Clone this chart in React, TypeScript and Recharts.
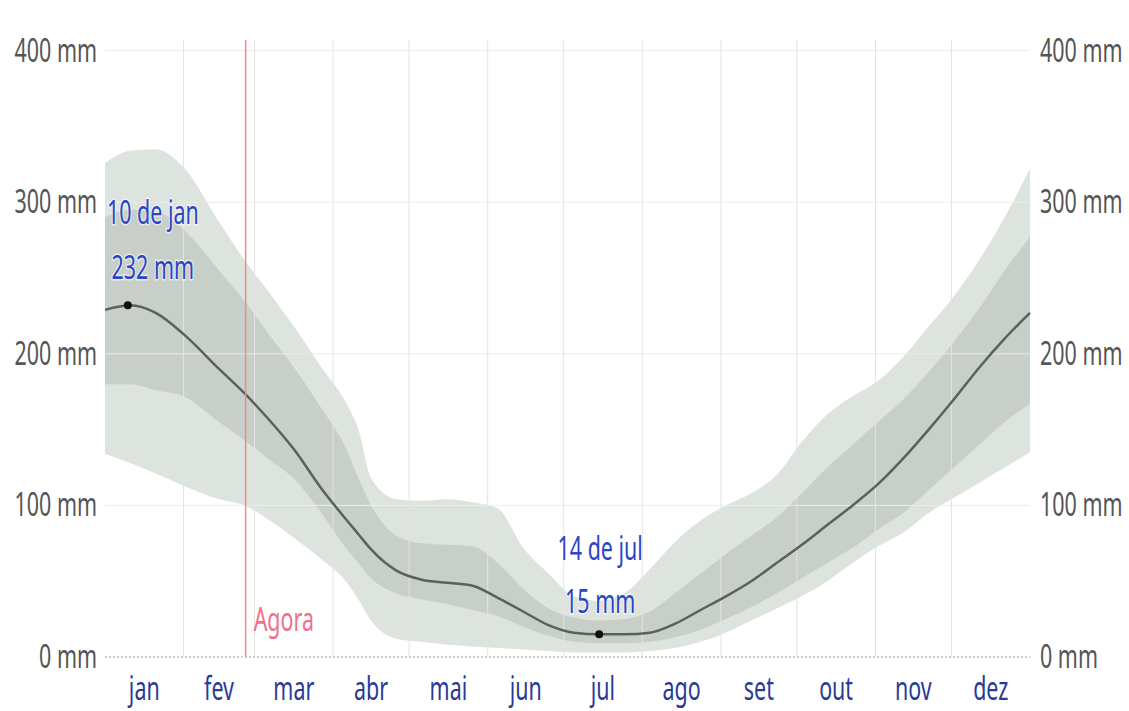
import React from 'react';
import { ComposedChart, Area, Line, XAxis, YAxis, ReferenceLine, ReferenceDot } from 'recharts';

// day of year (0 = 1 jan) and rainfall bands in mm
const DAYS = [0, 10, 20, 31, 45, 55, 65, 75, 85, 95, 100, 105, 115, 125, 135, 145, 155, 165, 175, 185, 195, 205, 215, 225, 235, 245, 255, 265, 275, 285, 295, 305, 315, 325, 335, 345, 355, 365];
const MEDIAN = [229, 232, 227, 213, 190, 174, 156, 136, 112, 91, 81, 71, 57, 51, 49, 47, 39, 30, 21, 16, 15, 15, 16, 22, 31, 40, 50, 62, 74, 87, 100, 114, 131, 150, 170, 191, 210, 227];
const P10 = [134, 128, 121, 113, 104, 100, 90, 78, 65, 50, 38, 24, 12, 10, 8, 7, 6, 5, 4, 3, 3, 3, 4, 6, 10, 16, 24, 32, 40, 50, 62, 73, 82, 95, 105, 115, 125, 135];
const P25 = [180, 180, 176, 172, 155, 143, 130, 117, 96, 72, 62, 52, 42, 38, 35, 31, 27, 20, 14, 10, 9, 9, 10, 13, 18, 25, 33, 42, 52, 62, 72, 84, 95, 110, 125, 140, 155, 167];
const P75 = [290, 295, 294, 282, 255, 235, 212, 190, 165, 138, 118, 100, 80, 75, 74, 73, 62, 45, 32, 26, 24, 25, 30, 42, 55, 68, 80, 92, 108, 125, 140, 155, 170, 188, 208, 230, 255, 277];
const P90 = [326, 334, 335, 323, 287, 262, 240, 217, 192, 168, 150, 118, 104, 103, 104, 102, 98, 72, 55, 40, 37, 42, 58, 76, 90, 100, 108, 120, 142, 160, 172, 182, 198, 218, 238, 262, 290, 322];

const MONTHS = ['jan', 'fev', 'mar', 'abr', 'mai', 'jun', 'jul', 'ago', 'set', 'out', 'nov', 'dez'];
const MONTH_MID = [15.5, 45, 74.5, 105, 135.5, 166, 196.5, 227.5, 258, 288.5, 319, 349.5];
const MONTH_START = [31, 59, 90, 120, 151, 181, 212, 243, 273, 304, 334];
const Y_TICKS = [0, 100, 200, 300, 400];

const NOW_DAY = 55.5;
const PEAK = { day: 9, value: 232, lines: ['10 de jan', '232 mm'] };
const LOW = { day: 195, value: 15, lines: ['14 de jul', '15 mm'] };

const rows = DAYS.map((day, i) => ({
    day,
    median: MEDIAN[i],
    outer: [P10[i], P90[i]],
    inner: [P25[i], P75[i]],
}));

const FONT = '"Noto Sans", "Open Sans", sans-serif';
const SQUEEZE = 0.65;

const yTick = (anchor: 'start' | 'end') => (props: any) => {
    const { x, y, payload } = props;
    return (
        <text transform={`translate(${x},${y}) scale(${SQUEEZE},1)`} textAnchor={anchor} dy={11} fontSize={33} fontFamily={FONT} fill="#555">
            {`${payload.value} mm`}
        </text>
    );
};

const MonthTick = (props: any) => {
    const { x, y, index } = props;
    return (
        <text transform={`translate(${x},${y}) scale(${SQUEEZE},1)`} textAnchor="middle" dy={43} fontSize={33} fontFamily={FONT} fill="#293a98">
            {MONTHS[index]}
        </text>
    );
};

const note = (lines: string[], dx: number, dys: number[]) => (props: any) => {
    const vb = props.viewBox || {};
    const cx = vb.x + (vb.width || 0) / 2;
    const cy = vb.y + (vb.height || 0) / 2;
    return (
        <g>
            {lines.map((t, i) => (
                <text key={t} transform={`translate(${cx + dx},${cy + dys[i]}) scale(${SQUEEZE},1)`} textAnchor="middle" dy={11}
                    fontSize={33} fontFamily={FONT} fill="#2a45c6" stroke="rgba(255,255,255,0.6)" strokeWidth={3} paintOrder="stroke">
                    {t}
                </text>
            ))}
        </g>
    );
};

const agoraLabel = (props: any) => {
    const vb = props.viewBox || {};
    return (
        <text transform={`translate(${vb.x + 8},${vb.y + vb.height - 26}) scale(${SQUEEZE},1)`} textAnchor="start"
            fontSize={33} fontFamily={FONT} fill="#f0708c">
            Agora
        </text>
    );
};

const App: React.FC = () => (
    <div style={{ position: 'absolute', left: 0, top: 0, width: 1129, height: 711, background: '#fff' }}>
        <ComposedChart width={1129} height={711} data={rows} margin={{ top: 40, right: 5, bottom: 0, left: 5 }}>
            <XAxis dataKey="day" type="number" domain={[0, 365]} ticks={MONTH_MID} interval={0} height={54}
                axisLine={false} tickLine={false} tickSize={0} tickMargin={0} tick={<MonthTick />} />
            <YAxis yAxisId="l" orientation="left" width={100} domain={[0, 407]} ticks={Y_TICKS} allowDataOverflow
                axisLine={false} tickLine={false} tickSize={0} tickMargin={8} tick={yTick('end')} />
            <YAxis yAxisId="r" orientation="right" width={94} domain={[0, 407]} ticks={Y_TICKS} allowDataOverflow
                axisLine={false} tickLine={false} tickSize={0} tickMargin={10} tick={yTick('start')} />

            {Y_TICKS.filter((t) => t > 0).map((t) => (
                <ReferenceLine key={`h${t}`} yAxisId="l" y={t} stroke="#ececec" strokeWidth={1} />
            ))}
            {MONTH_START.map((d) => (
                <ReferenceLine key={`v${d}`} yAxisId="l" x={d} stroke="#e3e3e3" strokeWidth={1} />
            ))}

            <Area yAxisId="l" type="monotone" dataKey="outer" stroke="none" fill="#dde3dd" fillOpacity={1} isAnimationActive={false} />
            <Area yAxisId="l" type="monotone" dataKey="inner" stroke="none" fill="#c8cfc8" fillOpacity={1} isAnimationActive={false} />
            <Line yAxisId="l" type="monotone" dataKey="median" stroke="#59625a" strokeWidth={2.5} dot={false} isAnimationActive={false} />

            <ReferenceLine yAxisId="l" y={0} stroke="#9a9a9a" strokeDasharray="2 2" />
            <ReferenceLine yAxisId="l" x={NOW_DAY} stroke="#f28a8a" strokeWidth={1.5} label={agoraLabel} />

            <ReferenceDot yAxisId="l" x={PEAK.day} y={PEAK.value} r={4} fill="#111" stroke="none"
                label={note(PEAK.lines, 25, [-92, -37])} />
            <ReferenceDot yAxisId="l" x={LOW.day} y={LOW.value} r={4} fill="#111" stroke="none"
                label={note(LOW.lines, 1, [-85, -32])} />
        </ComposedChart>
    </div>
);

export default App;
